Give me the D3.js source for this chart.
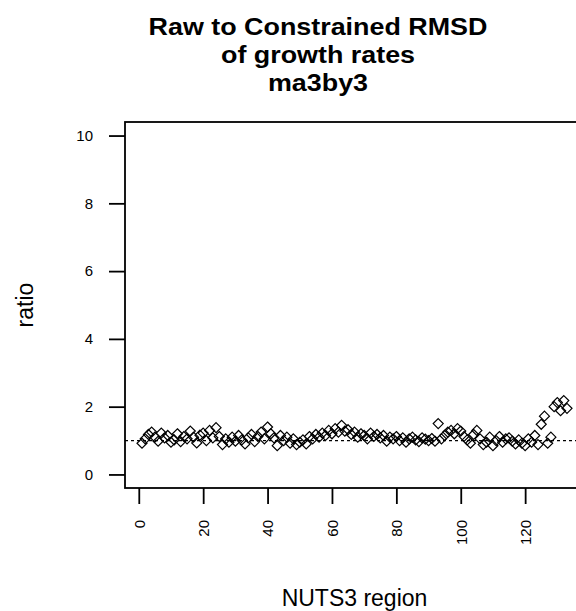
<!DOCTYPE html>
<html>
<head>
<meta charset="utf-8">
<script src="https://cdn.jsdelivr.net/npm/d3@7"></script>
<style>
  body { margin: 0; background: #fff; }
  svg { display: block; }
</style>
</head>
<body>
<div id="chart"></div>
<script>
// ratio of raw to constrained RMSD, one value per NUTS3 region (1..133)
const ratioValues = [
  0.92, 1.05, 1.18, 1.25, 1.10, 0.98, 1.22, 1.08, 1.15, 0.95,
  1.02, 1.20, 0.97, 1.12, 1.05, 1.28, 1.10, 0.93, 1.16, 1.22,
  1.00, 1.30, 1.08, 1.38, 1.12, 0.88, 1.05, 0.95, 1.10, 0.98,
  1.15, 1.02, 0.90, 1.08, 1.18, 0.97, 1.12, 1.25, 1.05, 1.40,
  1.20, 1.08, 0.85, 1.15, 1.00, 1.10, 0.92, 1.05, 0.88, 0.95,
  1.02, 0.90, 1.12, 1.05, 1.18, 1.10, 1.22, 1.15, 1.30, 1.20,
  1.35, 1.25, 1.45, 1.28, 1.32, 1.18, 1.25, 1.10, 1.20, 1.15,
  1.05, 1.22, 1.12, 1.18, 1.08, 1.15, 0.98, 1.10, 1.05, 1.12,
  1.00, 1.08, 0.95, 1.05, 1.10, 1.02, 0.97, 1.08, 1.04, 1.00,
  1.06, 0.98, 1.50, 1.05, 1.15, 1.25, 1.30, 1.20, 1.35, 1.28,
  1.12, 1.02, 0.92, 1.18, 1.30, 1.05, 0.88, 0.95, 1.10, 0.85,
  1.00, 1.12, 0.95, 1.05, 1.08, 0.98, 0.90, 1.02, 0.92, 0.85,
  1.05, 0.95, 1.15, 0.88, 1.48, 1.72, 0.92, 1.10, 2.00, 2.12,
  1.88, 2.18, 1.95
];
const regionIds = ratioValues.map((v, i) => i + 1);

const xTicks = [0, 20, 40, 60, 80, 100, 120];
const yTicks = [0, 2, 4, 6, 8, 10];
const titleLines = ["Raw to Constrained RMSD", "of growth rates", "ma3by3"];
const refLine = 1;

const width = 576, height = 611;
const plot = { left: 125, top: 122, right: 584, bottom: 488 };
const fontFamily = "'Liberation Sans', Arial, sans-serif";

const svg = d3.select("#chart").append("svg")
  .attr("width", width)
  .attr("height", height)
  .style("font-family", fontFamily);

svg.append("rect").attr("width", width).attr("height", height).attr("fill", "#fff");

// R style 4% padding on each side
const xExt = d3.extent(regionIds);
const xPad = (xExt[1] - xExt[0]) * 0.04;
const x = d3.scaleLinear()
  .domain([xExt[0] - xPad, xExt[1] + xPad])
  .range([plot.left, plot.right]);

const y = d3.scaleLinear()
  .domain([0 - 0.4, 10 + 0.4])
  .range([plot.bottom, plot.top]);

// box
svg.append("rect")
  .attr("x", plot.left)
  .attr("y", plot.top)
  .attr("width", plot.right - plot.left)
  .attr("height", plot.bottom - plot.top)
  .attr("fill", "none")
  .attr("stroke", "#000")
  .attr("stroke-width", 1.8);

// axes
const yAxis = svg.append("g")
  .attr("transform", `translate(${plot.left},0)`)
  .call(d3.axisLeft(y).tickValues(yTicks).tickSize(16).tickPadding(16));
yAxis.select(".domain").remove();
yAxis.selectAll("line").attr("stroke", "#000").attr("stroke-width", 1.8);
yAxis.selectAll("text")
  .style("font-size", "15px")
  .style("font-family", fontFamily)
  .attr("fill", "#000");

const xAxis = svg.append("g")
  .attr("transform", `translate(0,${plot.bottom})`)
  .call(d3.axisBottom(x).tickValues(xTicks).tickSize(16));
xAxis.select(".domain").remove();
xAxis.selectAll("line").attr("stroke", "#000").attr("stroke-width", 1.8);
xAxis.selectAll("text")
  .attr("transform", "rotate(-90)")
  .attr("x", -32)
  .attr("y", 0)
  .attr("dy", "0.35em")
  .attr("text-anchor", "end")
  .style("font-size", "15px")
  .style("font-family", fontFamily)
  .attr("fill", "#000");

// dashed reference line at ratio = 1
svg.append("line")
  .attr("x1", plot.left)
  .attr("x2", plot.right)
  .attr("y1", y(refLine))
  .attr("y2", y(refLine))
  .attr("stroke", "#000")
  .attr("stroke-width", 1.3)
  .attr("stroke-dasharray", "3,3");

// diamond points (pch = 5)
const r = 5;
svg.append("g")
  .selectAll("path")
  .data(ratioValues)
  .join("path")
  .attr("d", (d, i) => {
    const cx = x(regionIds[i]), cy = y(d);
    return `M${cx},${cy - r}L${cx + r},${cy}L${cx},${cy + r}L${cx - r},${cy}Z`;
  })
  .attr("fill", "none")
  .attr("stroke", "#000")
  .attr("stroke-width", 1.2);

// title, a bit wider than the font's natural width
svg.append("g")
  .attr("transform", "translate(318,0) scale(1.12,1)")
  .selectAll("text")
  .data(titleLines)
  .join("text")
  .attr("x", 0)
  .attr("y", (d, i) => 35 + i * 28)
  .attr("text-anchor", "middle")
  .style("font-size", "24px")
  .style("font-weight", "bold")
  .text(d => d);

// axis titles
svg.append("text")
  .attr("x", (plot.left + plot.right) / 2)
  .attr("y", 606)
  .attr("text-anchor", "middle")
  .style("font-size", "23px")
  .text("NUTS3 region");

svg.append("text")
  .attr("transform", `translate(33,${(plot.top + plot.bottom) / 2}) rotate(-90)`)
  .attr("text-anchor", "middle")
  .style("font-size", "23px")
  .text("ratio");
</script>
</body>
</html>
